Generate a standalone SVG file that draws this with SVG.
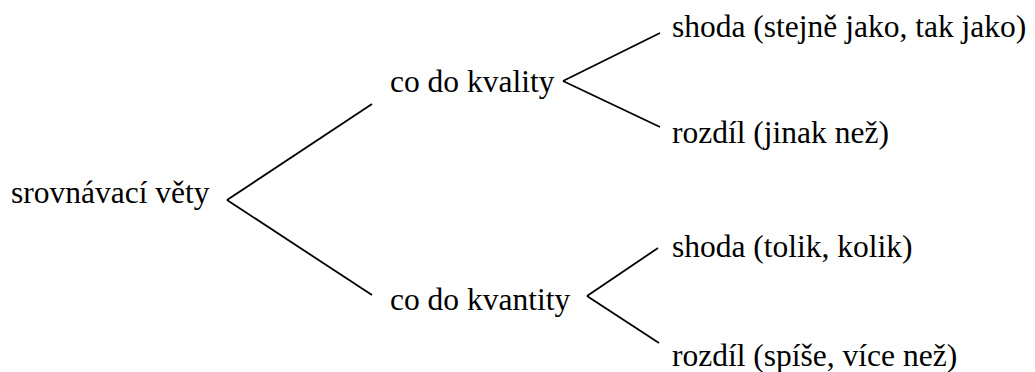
<svg xmlns="http://www.w3.org/2000/svg" width="1035" height="372" viewBox="0 0 1035 372">
<style>
.t text{font-family:"Times New Roman","Liberation Serif","DejaVu Serif",serif;font-size:31.5px;fill:#000}
.c line{stroke:#000;stroke-width:1.8;stroke-linecap:butt}
</style>
<rect width="1035" height="372" fill="#fff"/>
<g class="c" id="connectors">
<line x1="227" y1="200" x2="372" y2="104"/>
<line x1="227" y1="200" x2="372" y2="295"/>
<line x1="563" y1="81" x2="660" y2="33"/>
<line x1="563" y1="81" x2="660" y2="127"/>
<line x1="587" y1="296" x2="658" y2="248"/>
<line x1="587" y1="296" x2="659" y2="343"/>
</g>
<g class="t">
<g id="n-root"><text x="11" y="203">srovnávací věty</text></g>
<g id="n-kvality"><text x="390" y="92">co do kvality</text></g>
<g id="n-kvantity"><text x="390" y="310">co do kvantity</text></g>
<g id="n-shoda1"><text x="672" y="37">shoda (stejně jako, tak jako)</text></g>
<g id="n-rozdil1"><text x="672" y="143">rozdíl (jinak než)</text></g>
<g id="n-shoda2"><text x="672" y="257">shoda (tolik, kolik)</text></g>
<g id="n-rozdil2"><text x="672" y="366">rozdíl (spíše, více než)</text></g>
</g>
</svg>
